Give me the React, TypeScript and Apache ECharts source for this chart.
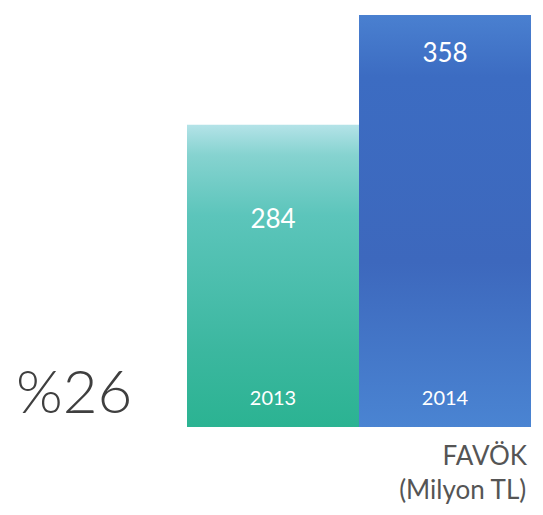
import React, { useEffect, useRef } from "react";
import * as echarts from "echarts";

const categories = ["2013", "2014"];
const values = [284, 358];
const sideNote = "%26";
const unitLines = ["FAVÖK", "(Milyon TL)"];

export default function App() {
  const ref = useRef<HTMLDivElement>(null);
  useEffect(() => {
    if (!ref.current) return;
    const chart = echarts.init(ref.current, null, { renderer: "svg" });
    const grads = [
      new echarts.graphic.LinearGradient(0, 0, 0, 1, [
        { offset: 0, color: "#b4e3e8" },
        { offset: 0.1, color: "#86d3d0" },
        { offset: 0.3, color: "#5cc5bb" },
        { offset: 0.75, color: "#3bb79f" },
        { offset: 1, color: "#2bb392" },
      ]),
      new echarts.graphic.LinearGradient(0, 0, 0, 1, [
        { offset: 0, color: "#4a80d0" },
        { offset: 0.15, color: "#3c6cc2" },
        { offset: 0.6, color: "#3d68bd" },
        { offset: 1, color: "#4a84d2" },
      ]),
    ];
    const labelDist = [80, 24];
    chart.setOption({
      animation: false,
      grid: { left: 187, right: 12, top: 12, bottom: 88 },
      xAxis: {
        type: "category",
        data: categories,
        axisLine: { show: false },
        axisTick: { show: false },
        axisLabel: {
          inside: true,
          margin: 20,
          color: "#ffffff",
          fontSize: 20,
          fontFamily: "Lato",
        },
        z: 10,
      },
      yAxis: { type: "value", min: 80, max: 360, show: false, splitLine: { show: false } },
      series: [
        {
          type: "bar",
          barCategoryGap: 0,
          data: values.map((v, i) => ({
            value: v,
            itemStyle: { color: grads[i] },
            label: {
              show: true,
              position: "insideTop",
              distance: labelDist[i],
              color: "#ffffff",
              fontSize: 26,
              fontFamily: "Lato",
            },
          })),
        },
      ],
      graphic: [
        {
          type: "text",
          left: 16,
          top: 360,
          style: { text: sideNote, fontSize: 60, fontFamily: "Lato", fontWeight: 300, fill: "#3f3f3f" },
        },
        {
          type: "text",
          right: 16,
          top: 442,
          style: { text: unitLines[0], fontSize: 26, fontFamily: "Lato", fill: "#555555", align: "right" },
        },
        {
          type: "text",
          right: 16,
          top: 476,
          style: { text: unitLines[1], fontSize: 26, fontFamily: "Lato", fill: "#555555", align: "right" },
        },
      ],
    });
    return () => chart.dispose();
  }, []);
  return (
    <div
      ref={ref}
      style={{ position: "fixed", left: 0, top: 0, width: 543, height: 515, background: "#ffffff" }}
    />
  );
}
